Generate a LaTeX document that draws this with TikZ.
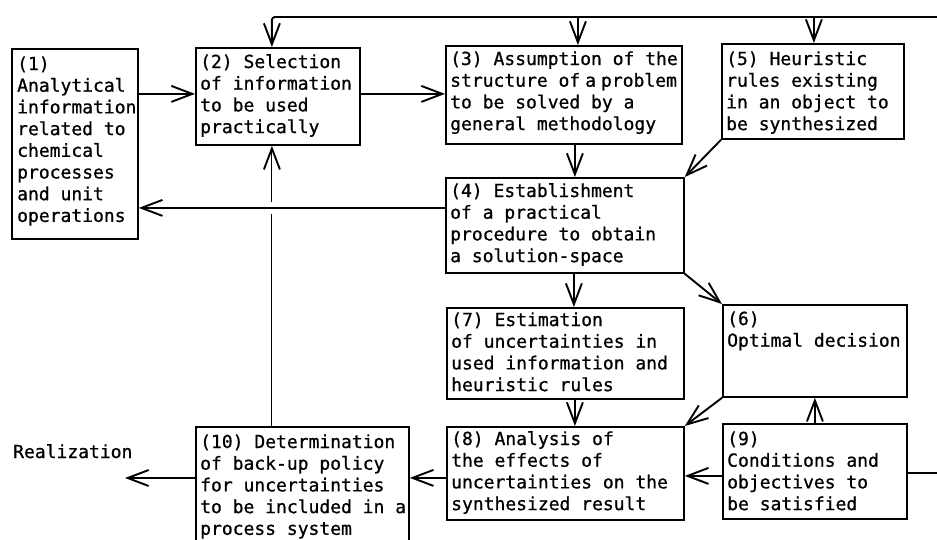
\documentclass[tikz,border=0pt]{standalone}
\usepackage{fontspec}
\newfontfamily\monof[FakeBold=0.8]{DejaVu Sans Mono}
\usetikzlibrary{arrows.meta,calc}
\newcommand\btxt[1]{\parbox[t]{300pt}{\fontsize{18}{21.7}\selectfont\monof #1}}
\begin{document}
\begin{tikzpicture}[x=1pt,y=-1pt,
  box/.style={draw,line width=1.8pt,inner sep=0pt,anchor=north west},
  txt/.style={inner sep=0pt,anchor=base west},
  ln/.style={line width=1.9pt},
  arr/.style={ln,-{Straight Barb[length=21pt,width=16pt]}},
  thinarr/.style={line width=1.1pt,-{Straight Barb[length=21pt,width=16pt,line width=1.9pt]}}]
\useasboundingbox (0,0) rectangle (937,539);
% boxes
\node[box,minimum width=126pt,minimum height=190pt] (b1) at (11,48) {};
\node[box,minimum width=164pt,minimum height=97pt] (b2) at (195,47) {};
\node[box,minimum width=236pt,minimum height=98pt] (b3) at (445,45) {};
\node[box,minimum width=182pt,minimum height=95pt] (b5) at (721,43) {};
\node[box,minimum width=238pt,minimum height=95pt] (b4) at (445,177) {};
\node[box,minimum width=237pt,minimum height=91pt] (b7) at (446,307) {};
\node[box,minimum width=184pt,minimum height=92pt] (b6) at (722,304) {};
\node[box,minimum width=237pt,minimum height=93pt] (b8) at (446,426) {};
\node[box,minimum width=184pt,minimum height=95pt] (b9) at (722,423) {};
\node[box,minimum width=213pt,minimum height=140pt] (b10) at (195,426) {};
% texts
\node[txt] (t1) at ($(b1.north west)+(6,22)$) {\btxt{(1)\\Analytical\\information\\related to\\chemical\\processes\\and unit\\operations}};
\node[txt] (t2) at ($(b2.north west)+(5,21)$) {\btxt{(2) Selection\\of information\\to be used\\practically}};
\node[txt] (t3) at ($(b3.north west)+(5,20)$) {\btxt{(3) Assumption of the\\structure of\hspace{5pt}a\hspace{5pt}problem\\to be solved by a\\general methodology}};
\node[txt] (t5) at ($(b5.north west)+(5,22)$) {\btxt{(5) Heuristic\\rules existing\\in an object to\\be synthesized}};
\node[txt] (t4) at ($(b4.north west)+(5,20)$) {\btxt{(4) Establishment\\of a practical\\procedure to obtain\\a solution-space}};
\node[txt] (t7) at ($(b7.north west)+(5,19)$) {\btxt{(7) Estimation\\of uncertainties in\\used information and\\heuristic rules}};
\node[txt] (t6) at ($(b6.north west)+(5,21)$) {\btxt{(6)\\Optimal decision}};
\node[txt] (t8) at ($(b8.north west)+(5,19)$) {\btxt{(8) Analysis of\\the effects of\\uncertainties on the\\synthesized result}};
\node[txt] (t9) at ($(b9.north west)+(5,22)$) {\btxt{(9)\\Conditions and\\objectives to\\be satisfied}};
\node[txt] (t10) at ($(b10.north west)+(5,22)$) {\btxt{(10) Determination\\of back-up policy\\for uncertainties\\to be included in a\\process system}};
\node[txt] (real) at (13,458) {\btxt{Realization}};
% coordinates
\coordinate (topR) at (937,17);
\coordinate (rightR) at (937,473);
\coordinate (realtip) at (125,478);
\coordinate (a12) at ([yshift=2.5pt]b2.west);
\coordinate (a23) at ([yshift=2.5pt]b2.east);
\coordinate (a34) at ([xshift=11pt]b3.south);
\coordinate (a41) at ([yshift=17.5pt]b4.west);
\coordinate (a47) at ([xshift=9pt]b4.south);
\coordinate (a78) at ([xshift=9.5pt]b7.south);
\coordinate (a98) at ([yshift=-2.5pt]b8.east);
\coordinate (a810) at ([yshift=-4.5pt]b8.west);
\coordinate (a102) at ([xshift=-6pt]b2.south);
\coordinate (x41) at (a102 |- a41);
\coordinate (a2t) at ([xshift=-6pt]b2.north);
\coordinate (a3t) at ([xshift=14pt]b3.north);
\coordinate (a5t) at ([xshift=1pt]b5.north);
% connectors
\draw[arr,rounded corners=3pt] (topR) -| (a2t);
\draw[arr] (a3t |- topR) -- (a3t);
\draw[arr] (a5t |- topR) -- (a5t);
\draw[arr] (b1.east |- a12) -- (a12);
\draw[arr] (a23) -- (a23 -| b3.west);
\draw[arr] (a34) -- (a34 |- b4.north);
\draw[arr] (b5.south west) -- (b4.north east);
\draw[arr] (a41) -- (a41 -| b1.east);
\draw[arr] (a47) -- (a47 |- b7.north);
\draw[arr] (b4.south east) -- (b6.north west);
\draw[arr] (a78) -- (a78 |- b8.north);
\draw[arr] (b6.south west) -- (b8.north east);
\draw[arr] (b9.north) -- (b6.south);
\draw[arr] (b9.west |- a98) -- (a98);
\draw[arr] (a810) -- (a810 -| b10.east);
\draw[arr] (realtip -| b10.west) -- (realtip);
\draw[ln] (b9.east |- rightR) -- (rightR);
\draw[line width=1.1pt] (a102 |- b10.north) -- ([yshift=-6pt]x41);
\draw[thinarr] ([yshift=6pt]x41) -- (a102);
\end{tikzpicture}
\end{document}
